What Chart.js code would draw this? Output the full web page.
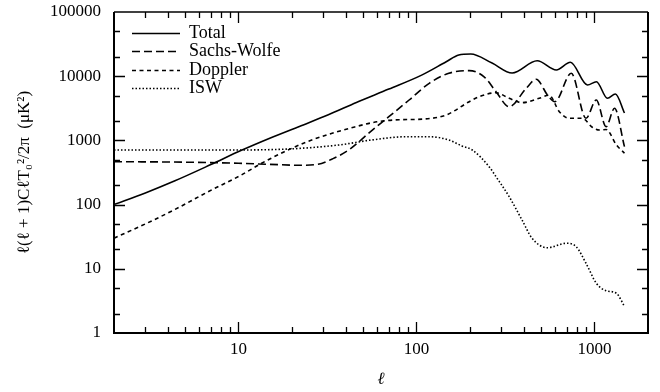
<!DOCTYPE html>
<html>
<head>
<meta charset="utf-8">
<script src="https://cdn.jsdelivr.net/npm/chart.js@4/dist/chart.umd.min.js"></script>
<style>
  html, body { margin: 0; padding: 0; background: #fff; }
  #wrap { width: 660px; height: 392px; }
</style>
</head>
<body>
<div id="wrap"><canvas id="spectrum" width="660" height="392"></canvas></div>
<script>
"use strict";

// multipole values (x) and band power (y, µK²)
const TOTAL_L = [2, 3, 4.4, 7, 10.4, 15, 22, 32, 46, 70, 107, 147, 173, 202, 266, 345, 477, 611, 733, 914, 1026, 1183, 1312, 1475];
const TOTAL_V = [100, 152, 235, 420, 700, 1080, 1650, 2500, 3900, 6300, 10400, 16800, 21400, 22200, 16000, 11200, 17400, 12500, 16500, 7300, 8200, 4530, 5280, 2670];

const SW_L = [2, 5, 10, 15, 22, 28, 34, 42, 54, 70, 91, 118, 152, 198, 240, 280, 332, 414, 470, 550, 600, 741, 897, 1024, 1163, 1297, 1475];
const SW_V = [466, 458, 440, 424, 410, 425, 520, 720, 1300, 2340, 4260, 7750, 11100, 12200, 9800, 5740, 3350, 6480, 8950, 4900, 4000, 11100, 2210, 4260, 1635, 3160, 800];

const DOPPLER_L = [2, 3, 4.4, 6.8, 10.4, 13.5, 18, 24, 32, 45, 60, 80, 110, 147, 198, 225, 280, 332, 392, 490, 557, 635, 723, 854, 973, 1066, 1163, 1330, 1475];
const DOPPLER_V = [30, 50, 84, 160, 290, 440, 660, 940, 1240, 1620, 1950, 2100, 2150, 2490, 4010, 4800, 5530, 4530, 3870, 4530, 5050, 2800, 2210, 2210, 1600, 1450, 1480, 848, 630];

const ISW_L = [2, 10, 20, 36.6, 56, 87, 118, 152, 180, 206, 256, 280, 332, 392, 446, 543, 697, 791, 897, 1026, 1163, 1330, 1475];
const ISW_V = [709, 709, 740, 848, 1015, 1140, 1140, 1015, 820, 709, 390, 272, 133, 57.6, 30, 21.3, 25, 22, 12.2, 5.94, 4.56, 4.15, 2.6];

const X_LABELS = [10, 100, 1000];
const Y_LABELS = [1, 10, 100, 1000, 10000, 100000];
const X_STEPS = [1, 2, 3, 4, 5, 6, 7, 8, 9];
const Y_STEPS = [1, 2, 5];

const FONT = "'Liberation Serif', 'DejaVu Serif', serif";

function toPoints(xs, ys) {
  return xs.map((x, i) => ({ x, y: ys[i] }));
}

function logTicks(decades, steps, min, max) {
  const out = [];
  decades.forEach((d) => {
    steps.forEach((s) => {
      const v = s * d;
      if (v >= min && v <= max && !out.includes(v)) out.push(v);
    });
  });
  return out.map((value) => ({ value }));
}

// frame with inward tick marks on all four sides
const frameTicks = {
  id: "frameTicks",
  afterDatasetsDraw(chart) {
    const { ctx, chartArea: a, scales } = chart;
    ctx.save();
    ctx.strokeStyle = "#000";
    ctx.lineWidth = 1.3;
    ctx.setLineDash([]);

    scales.x.ticks.forEach((t) => {
      const px = Math.round(scales.x.getPixelForValue(t.value)) + 0.5;
      if (px <= a.left + 1 || px >= a.right - 1) return;
      const len = X_LABELS.includes(t.value) ? 11 : 6;
      ctx.beginPath();
      ctx.moveTo(px, a.bottom); ctx.lineTo(px, a.bottom - len);
      ctx.moveTo(px, a.top); ctx.lineTo(px, a.top + len);
      ctx.stroke();
    });

    scales.y.ticks.forEach((t) => {
      const py = Math.round(scales.y.getPixelForValue(t.value)) + 0.5;
      if (py <= a.top + 1 || py >= a.bottom - 1) return;
      const len = Y_LABELS.includes(t.value) ? 11 : 6;
      ctx.beginPath();
      ctx.moveTo(a.left, py); ctx.lineTo(a.left + len, py);
      ctx.moveTo(a.right, py); ctx.lineTo(a.right - len, py);
      ctx.stroke();
    });

    ctx.lineWidth = 2;
    ctx.beginPath();
    ctx.moveTo(a.left, a.top); ctx.lineTo(a.left, a.bottom); ctx.lineTo(a.right, a.bottom); ctx.lineTo(a.right, a.top);
    ctx.stroke();
    ctx.lineWidth = 1.5;
    ctx.beginPath();
    ctx.moveTo(a.left, a.top); ctx.lineTo(a.right, a.top);
    ctx.stroke();
    ctx.restore();
  }
};

// legend in the upper left of the plot
const legendInside = {
  id: "legendInside",
  afterDraw(chart) {
    const { ctx, chartArea: a } = chart;
    const x0 = a.left + 18;
    const x1 = x0 + 48;
    chart.data.datasets.forEach((ds, i) => {
      const y = Math.round(a.top + 21 + i * 18.3) + 0.5;
      ctx.save();
      ctx.strokeStyle = ds.borderColor;
      ctx.lineWidth = ds.borderWidth;
      ctx.setLineDash(ds.borderDash || []);
      ctx.beginPath();
      ctx.moveTo(x0, y);
      ctx.lineTo(x1, y);
      ctx.stroke();
      ctx.setLineDash([]);
      ctx.fillStyle = "#000";
      ctx.font = `18px ${FONT}`;
      ctx.textBaseline = "middle";
      ctx.fillText(ds.label, x1 + 9, y);
      ctx.restore();
    });
  }
};

function lineSet(label, xs, ys, dash) {
  return {
    label,
    data: toPoints(xs, ys),
    borderColor: "#000",
    borderWidth: 1.6,
    borderDash: dash,
    pointRadius: 0,
    fill: false,
    cubicInterpolationMode: "monotone"
  };
}

new Chart(document.getElementById("spectrum"), {
  type: "line",
  data: {
    datasets: [
      lineSet("Total", TOTAL_L, TOTAL_V, []),
      lineSet("Sachs-Wolfe", SW_L, SW_V, [8, 4]),
      lineSet("Doppler", DOPPLER_L, DOPPLER_V, [4, 3.5]),
      lineSet("ISW", ISW_L, ISW_V, [1.5, 2])
    ]
  },
  options: {
    responsive: false,
    animation: false,
    devicePixelRatio: 1,
    layout: { padding: { top: 12, right: 12, left: 0, bottom: 0 } },
    plugins: {
      legend: { display: false },
      tooltip: { enabled: false }
    },
    scales: {
      x: {
        type: "logarithmic",
        min: 2,
        max: 2000,
        grid: { display: false, drawTicks: false },
        border: { display: false },
        afterBuildTicks: (scale) => {
          scale.ticks = logTicks([1, 10, 100, 1000], X_STEPS, 2, 2000);
        },
        afterFit: (scale) => {
          scale.height = 59;
          scale.paddingLeft = 0;
          scale.paddingRight = 0;
        },
        ticks: {
          autoSkip: false,
          maxRotation: 0,
          padding: 6,
          color: "#000",
          font: { family: FONT, size: 17 },
          callback: (value) => (X_LABELS.includes(value) ? String(value) : "")
        },
        title: {
          display: true,
          text: "ℓ",
          color: "#000",
          font: { family: FONT, size: 17, style: "italic" },
          padding: { top: 0, bottom: 2 }
        }
      },
      y: {
        type: "logarithmic",
        min: 1,
        max: 100000,
        grid: { display: false, drawTicks: false },
        border: { display: false },
        afterBuildTicks: (scale) => {
          scale.ticks = logTicks([1, 10, 100, 1000, 10000, 100000], Y_STEPS, 1, 100000);
        },
        afterFit: (scale) => {
          scale.width = 114;
          scale.paddingTop = 0;
          scale.paddingBottom = 0;
        },
        ticks: {
          autoSkip: false,
          padding: 13,
          color: "#000",
          font: { family: FONT, size: 17 },
          callback: (value) => (Y_LABELS.includes(value) ? String(value) : "")
        },
        title: {
          display: true,
          text: "ℓ(ℓ + 1)CℓT₀²/2π  (μK²)",
          color: "#000",
          font: { family: FONT, size: 17 },
          padding: { top: 14, bottom: 0 }
        }
      }
    }
  },
  plugins: [frameTicks, legendInside]
});
</script>
</body>
</html>
